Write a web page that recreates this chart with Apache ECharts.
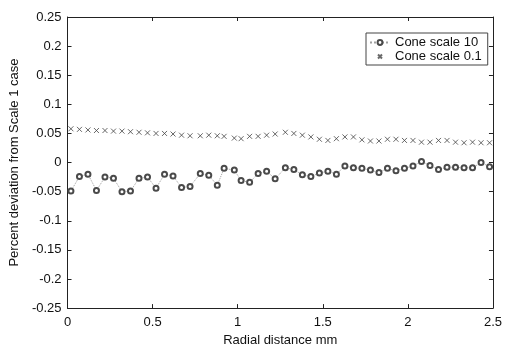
<!DOCTYPE html>
<html>
<head>
<meta charset="utf-8">
<script src="https://cdn.jsdelivr.net/npm/echarts@6/dist/echarts.min.js"></script>
<style>
  html, body { margin: 0; padding: 0; background: #fff; }
  #main { width: 505px; height: 352px; }
</style>
</head>
<body>
<div id="main"></div>
<script>
// radial positions (mm)
var radial = [0.02, 0.07, 0.12, 0.17, 0.22, 0.27, 0.32, 0.37, 0.42, 0.47,
    0.52, 0.57, 0.62, 0.67, 0.72, 0.78, 0.83, 0.88, 0.92, 0.98,
    1.02, 1.07, 1.12, 1.17, 1.22, 1.28, 1.33, 1.38, 1.43, 1.48,
    1.53, 1.58, 1.63, 1.68, 1.73, 1.78, 1.83, 1.88, 1.93, 1.98,
    2.03, 2.08, 2.13, 2.18, 2.23, 2.28, 2.33, 2.38, 2.43, 2.48];
// Cone scale 10
var scale10 = [-0.049, -0.024, -0.020, -0.048, -0.025, -0.027, -0.050, -0.049, -0.027, -0.025,
    -0.044, -0.020, -0.023, -0.043, -0.041, -0.019, -0.022, -0.039, -0.010, -0.013,
    -0.031, -0.034, -0.019, -0.015, -0.028, -0.009, -0.012, -0.021, -0.024, -0.018,
    -0.015, -0.020, -0.006, -0.009, -0.010, -0.013, -0.017, -0.010, -0.014, -0.010,
    -0.006, 0.002, -0.005, -0.012, -0.008, -0.008, -0.009, -0.009, 0.000, -0.007];
// Cone scale 0.1
var scale01 = [0.058, 0.057, 0.056, 0.055, 0.055, 0.054, 0.054, 0.053, 0.052, 0.051,
    0.050, 0.050, 0.049, 0.047, 0.046, 0.046, 0.047, 0.046, 0.045, 0.042,
    0.041, 0.045, 0.045, 0.047, 0.049, 0.052, 0.050, 0.047, 0.044, 0.040,
    0.038, 0.041, 0.044, 0.044, 0.039, 0.037, 0.037, 0.040, 0.040, 0.038,
    0.038, 0.035, 0.035, 0.038, 0.038, 0.035, 0.034, 0.035, 0.034, 0.034];

var font = 'Liberation Sans, Arial, sans-serif';
var crossPath = 'path://M0,0L10,10M10,0L0,10';

function pairs(ys) {
    return radial.map(function (x, i) { return [x, ys[i]]; });
}

var chart = echarts.init(document.getElementById('main'));

// matlab style box: every side gets a line and inward ticks
function line() { return { show: true, onZero: false, lineStyle: { color: '#222', width: 1 } }; }
function tick() { return { show: true, inside: true, length: 4, lineStyle: { color: '#222' } }; }
var label = { color: '#111', fontSize: 13, fontFamily: font };

var option = {
    animation: false,
    backgroundColor: '#fff',
    grid: { left: 62, right: 9, top: 17, bottom: 34 },
    legend: {
        orient: 'vertical',
        left: 366,
        top: 33,
        padding: [3, 6, 2, 3],
        itemGap: 1,
        itemWidth: 20,
        itemHeight: 6,
        borderColor: '#444',
        borderWidth: 1,
        backgroundColor: '#fff',
        textStyle: { color: '#111', fontSize: 13, fontFamily: font, lineHeight: 12 },
        data: [
            { name: 'Cone scale 10' },
            { name: 'Cone scale 0.1', icon: 'path://M0,0L0,0M1,1L5,5M5,1L1,5M6,6L6,6' }
        ]
    },
    xAxis: [{
        type: 'value',
        min: 0, max: 2.5, interval: 0.5,
        name: 'Radial distance mm',
        nameLocation: 'middle',
        nameGap: 25,
        nameTextStyle: { color: '#111', fontSize: 13, fontFamily: font },
        axisLine: line(),
        axisTick: tick(),
        axisLabel: Object.assign({ margin: 8 }, label),
        splitLine: { show: false }
    }, {
        type: 'value', position: 'top',
        min: 0, max: 2.5, interval: 0.5,
        axisLine: line(),
        axisTick: tick(),
        axisLabel: { show: false },
        splitLine: { show: false }
    }],
    yAxis: [{
        type: 'value',
        min: -0.25, max: 0.25, interval: 0.05,
        name: 'Percent deviation from Scale 1 case',
        nameLocation: 'middle',
        nameGap: 34,
        nameTextStyle: { color: '#111', fontSize: 13, fontFamily: font },
        axisLine: line(),
        axisTick: tick(),
        axisLabel: Object.assign({ margin: 6 }, label),
        splitLine: { show: false }
    }, {
        type: 'value', position: 'right',
        min: -0.25, max: 0.25, interval: 0.05,
        axisLine: line(),
        axisTick: tick(),
        axisLabel: { show: false },
        splitLine: { show: false }
    }],
    series: [{
        name: 'Cone scale 10',
        type: 'line',
        data: pairs(scale10),
        symbol: 'emptyCircle',
        symbolSize: 5,
        itemStyle: { color: '#4a4a4a', borderWidth: 0.9 },
        lineStyle: { color: '#a0a0a0', width: 1, type: 'dotted' },
        z: 3
    }, {
        name: 'Cone scale 0.1',
        type: 'scatter',
        data: pairs(scale01),
        symbol: crossPath,
        symbolSize: 5,
        itemStyle: { color: 'transparent', borderColor: '#444', borderWidth: 1 },
        z: 2
    }]
};

chart.setOption(option);
</script>
</body>
</html>
